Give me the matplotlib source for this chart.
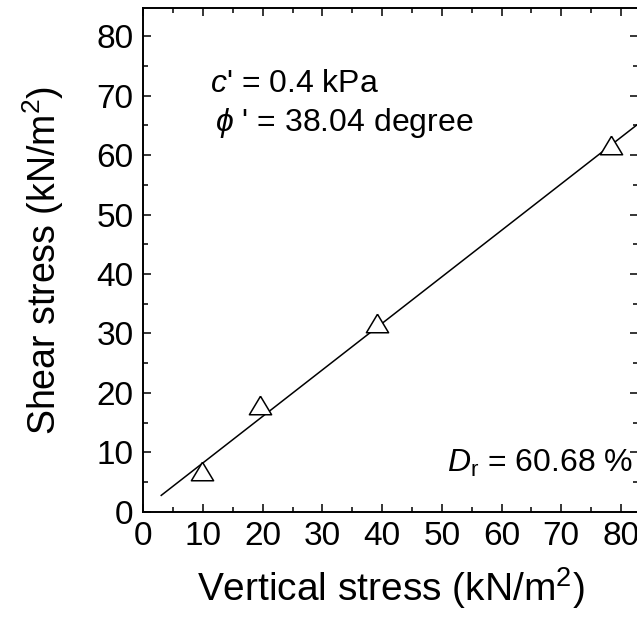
import matplotlib
matplotlib.use("Agg")
import matplotlib.pyplot as plt
import numpy as np

plt.rcParams["font.family"] = ["Liberation Sans", "DejaVu Sans"]
plt.rcParams["mathtext.fontset"] = "custom"
plt.rcParams["mathtext.rm"] = "Liberation Sans"
plt.rcParams["mathtext.it"] = "Liberation Sans:italic"
plt.rcParams["mathtext.bf"] = "Liberation Sans:bold"

# direct shear test results
vertical_stress = [9.8, 19.6, 39.2, 78.4]
shear_stress = [6.8, 17.9, 31.8, 61.7]

# Mohr-Coulomb fit
cohesion = 0.4
phi_deg = 38.04
fit_x = [3.0, 90.0]

fig = plt.figure(figsize=(6.37, 6.21), dpi=100)
ax = fig.add_axes([0.225, 0.176, 0.7766, 0.8106])

fx = np.array(fit_x)
ax.plot(fx, cohesion + np.tan(np.radians(phi_deg)) * fx, color="black", lw=1.1, zorder=2)

tri = [(0, 0.833), (-1, -0.833), (1, -0.833), (0, 0.833)]
ax.plot(vertical_stress, shear_stress, linestyle="none", marker=tri, ms=16,
        mfc="white", mec="black", mew=1.1, zorder=3)

ax.set_xlim(0, 82.86)
ax.set_ylim(0, 84.7)
ax.set_xticks(np.arange(0, 81, 10))
ax.set_yticks(np.arange(0, 81, 10))
ax.set_xticks(np.arange(5, 81, 10), minor=True)
ax.set_yticks(np.arange(5, 81, 10), minor=True)
ax.tick_params(which="both", direction="in", top=True, right=True, width=1.1,
               labelsize=24, pad=7)
ax.tick_params(which="major", length=6)
ax.tick_params(which="minor", length=3.5)
for sp in ax.spines.values():
    sp.set_linewidth(1.4)

ax.set_xlabel(r"Vertical stress (kN/m$^2$)", fontsize=28, labelpad=9)
ax.set_ylabel(r"Shear stress (kN/m$^2$)", fontsize=27, labelpad=22)

ax.text(11.2, 70.6, r"$c$' = 0.4 kPa", fontsize=23, va="baseline")
ax.text(12.0, 64.1, r"$\phi$ ' = 38.04 degree", fontsize=23, va="baseline")
ax.text(50.9, 6.7, r"$D_{\mathrm{r}}$ = 60.68 %", fontsize=23, va="baseline")

fig.savefig("out.png", dpi=100)
